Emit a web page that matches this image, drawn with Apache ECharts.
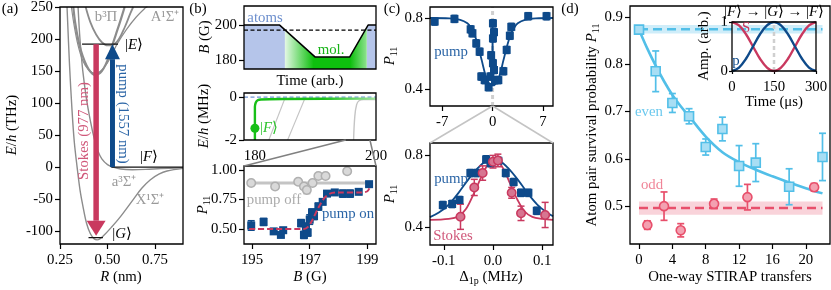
<!DOCTYPE html>
<html><head><meta charset="utf-8">
<script src="https://cdn.jsdelivr.net/npm/echarts@6.0.0/dist/echarts.min.js"></script>
<style>html,body{margin:0;padding:0;background:#fff;}#c{width:831px;height:290px;}</style>
</head><body><div id="c"></div>
<script>
// ================= DATA =================
// (a) potential energy curves [R (nm), E/h (THz)]
const aXTicks = [0.25, 0.5, 0.75];
const aYTicks = [-100, -50, 0, 50, 100, 150, 200, 250];
const potX1 = [[0.287,250],[0.30,160],[0.313,90],[0.325,40],[0.34,0],[0.355,-35],[0.37,-60],[0.39,-88],[0.41,-104],[0.43,-112],[0.445,-113.5],[0.46,-112],[0.476,-108],[0.52,-94],[0.566,-78],[0.634,-51],[0.68,-33],[0.724,-20],[0.77,-11],[0.813,-6],[0.897,-2]];
const potA3 = [[0.345,250],[0.355,200],[0.37,150],[0.39,105],[0.41,72],[0.43,45],[0.45,25],[0.47,13],[0.50,4],[0.53,0],[0.57,-3],[0.63,-4],[0.70,-3.5],[0.78,-2.2],[0.897,-1]];
const potExc = [[0.32,250],[0.33,225],[0.345,200],[0.36,182],[0.38,165],[0.40,153],[0.42,146],[0.435,144],[0.45,145],[0.47,150],[0.49,160],[0.51,175],[0.525,190],[0.545,208],[0.565,226],[0.59,250]];
const potA1 = [[0.31,250],[0.325,220],[0.345,190],[0.37,166],[0.40,152],[0.43,147],[0.46,149],[0.50,163],[0.53,180],[0.55,192],[0.60,215],[0.65,234],[0.70,249],[0.71,251]];
const potB3 = [[0.385,250],[0.41,226],[0.44,207],[0.47,195],[0.50,190],[0.53,191],[0.56,200],[0.59,218],[0.62,240],[0.635,250]];
const levelE = [[0.366,192],[0.555,192]];
const levelF = [[0.52,0],[0.897,0]];
const levelG = [[0.40,-110],[0.476,-110]];
const stokesArrow = [[0.44, 192, -107]];
const pumpArrow = [[0.526, 0, 192]];

// (b) top: magnetic field ramp vs time (arb.)
const bRampT = [0, 0.27, 0.54, 0.80, 0.94, 1];
const bRampB = [200, 200, 181.7, 181.7, 200, 200];
const bResonanceB = 197.1;
const bAtomsLeft = [[0,200],[0.27,200],[0.31,197.3]];
const bMolecules = [[0.31,197.3],[0.54,181.7],[0.80,181.7],[0.93,198.7]];
const bAtomsRight = [[0.93,198.7],[0.94,200],[1,200]];
const bTopYTicks = [180, 200];
// (b) middle: energy levels
const bMidXTicks = [180, 200];
const bMidYTicks = [-2, 0];
const bFstate = [[180,-2],[180,-0.45],[180.15,-0.25],[180.45,-0.15],[181,-0.11],[185,-0.09],[200,-0.07]];
const bFdot = [[180, -1.45]];
const bGray1 = [[182.3,-2],[184.9,-0.1]];
const bGray2 = [[185.4,-2],[188.2,-0.1]];
const bGray3 = [[196.3,-2],[196.5,-0.9],[196.8,-0.35],[197.2,-0.17],[198,-0.12],[200,-0.11]];
// (b) bottom: P11 vs B  [B, P11, err]
const bBotXTicks = [195, 197, 199];
const bBotYTicks = [0.5, 0.75, 1.0];
const pumpOff = [[194.97,0.89,0.02],[195.8,0.86,0.02],[196.6,0.90,0.02],[196.8,0.86,0.02],[196.9,0.83,0.03],[197.1,0.89,0.02],[197.3,0.95,0.02],[197.55,0.95,0.02],[198.3,0.99,0.02]];
const pumpOffMean = [[194.9,0.89],[199.05,0.89]];
const pumpOn = [[194.97,0.53,0.04],[195.4,0.56,0.03],[195.75,0.48,0.02],[196.0,0.45,0.02],[196.08,0.49,0.02],[196.7,0.55,0.03],[196.8,0.45,0.03],[196.87,0.52,0.03],[196.93,0.47,0.03],[197.0,0.58,0.04],[197.08,0.64,0.03],[197.15,0.61,0.03],[197.3,0.69,0.03],[197.45,0.73,0.02],[197.6,0.80,0.02],[197.87,0.81,0.02],[198.15,0.80,0.03],[198.4,0.80,0.03],[198.7,0.815,0.02],[199.06,0.88,0.02]];
const pumpOnFit = [[194.9,0.50],[196.8,0.50],[196.95,0.52],[197.1,0.58],[197.3,0.68],[197.5,0.76],[197.7,0.80],[198.0,0.81],[198.8,0.81],[199.0,0.82],[199.1,0.86]];

// (c) top: P11 vs detuning (MHz)
const cTopXTicks = [-7, 0, 7];
const cTopYTicks = [0.4, 0.8];
const cTopPump = [[-8.05,0.78],[-5.3,0.795],[-3.05,0.736],[-2.8,0.714],[-2.27,0.657],[-1.8,0.61],[-1.57,0.47],[-1.1,0.45],[-0.55,0.41],[0.05,0.77],[0.2,0.72],[0.05,0.685],[-0.2,0.59],[0.05,0.545],[0.2,0.507],[-0.3,0.47],[0.35,0.45],[0.8,0.45],[1.5,0.50],[1.96,0.62],[2.4,0.70],[2.6,0.75],[4.95,0.81],[7.5,0.81]];
const cTopFit = [[-8.7,0.80],[-6,0.798],[-4.5,0.79],[-3.5,0.77],[-3,0.745],[-2.5,0.705],[-2,0.64],[-1.5,0.56],[-1,0.48],[-0.6,0.44],[-0.25,0.422],[-0.1,0.42],[0.1,0.42],[0.25,0.422],[0.6,0.44],[1,0.48],[1.5,0.56],[2,0.64],[2.5,0.705],[3,0.745],[3.5,0.77],[4.5,0.79],[6,0.798],[8.4,0.80]];
const cTopSpike = [[-0.1,0.42],[0,0.77],[0.1,0.42]];
// (c) bottom
const cBotXTicks = [-0.1, 0, 0.1];
const cBotYTicks = [0.4, 0.8];
const cBotPump = [[-0.102,0.522,0.02],[-0.083,0.528,0.02],[-0.068,0.55,0.02],[-0.046,0.70,0.02],[-0.033,0.70,0.02],[-0.014,0.776,0.02],[-0.005,0.755,0.02],[0.011,0.768,0.02],[0.026,0.70,0.02],[0.042,0.65,0.02],[0.057,0.59,0.02],[0.072,0.59,0.02],[0.089,0.49,0.02]];
const cBotStokes = [[-0.066,0.457,0.07],[-0.038,0.62,0.045],[-0.021,0.70,0.04],[0.0,0.763,0.035],[0.01,0.77,0.035],[0.038,0.59,0.03],[0.057,0.476,0.04],[0.106,0.467,0.07]];
const cBotPumpFit = [[-0.128,0.455],[-0.11,0.48],[-0.09,0.525],[-0.07,0.59],[-0.05,0.665],[-0.03,0.73],[-0.015,0.765],[0,0.775],[0.015,0.765],[0.03,0.73],[0.05,0.665],[0.07,0.59],[0.09,0.525],[0.11,0.48],[0.122,0.46]];
const cBotStokesFit = [[-0.128,0.44],[-0.09,0.445],[-0.07,0.46],[-0.055,0.5],[-0.04,0.58],[-0.025,0.67],[-0.012,0.74],[0,0.772],[0.01,0.765],[0.022,0.72],[0.035,0.64],[0.05,0.55],[0.065,0.485],[0.08,0.456],[0.1,0.445],[0.122,0.44]];

// (d) survival probability vs number of transfers  [n, P11, err]
const dXTicks = [0, 4, 8, 12, 16, 20];
const dYTicks = [0.5, 0.6, 0.7, 0.8, 0.9];
const dEven = [[0,0.873,0.005],[2,0.785,0.043],[4,0.718,0.02],[6,0.69,0.016],[8,0.625,0.017],[10,0.663,0.025],[12,0.585,0.043],[14,0.592,0.04],[18,0.541,0.038],[22,0.604,0.05]];
const dOdd = [[1,0.46,0.009],[3,0.50,0.03],[5,0.449,0.014],[9,0.505,0.01],[13,0.519,0.027],[21,0.54,0.008]];
const dEvenFit = [[0,0.873],[1,0.833],[2,0.797],[3,0.764],[4,0.735],[5,0.711],[6,0.69],[8,0.647],[10,0.614],[12,0.593],[14,0.577],[16,0.563],[18,0.55],[20,0.538],[22,0.527]];
const dEvenLevel = [[0, 22, 0.874, 0.009]];   // [x0, x1, mean, half band]
const dOddLevel = [[0, 22, 0.496, 0.014]];
// (d) inset: STIRAP pulses
const inXTicks = [0, 150, 300];
const inYTicks = [0, 1];
const inT = [0,25,50,75,100,125,150,175,200,225,250,275,300];
const inS = [1,0.93,0.75,0.5,0.25,0.07,0,0.07,0.25,0.5,0.75,0.93,1];
const inP = [0,0.07,0.25,0.5,0.75,0.93,1,0.93,0.75,0.5,0.25,0.07,0];

// ================= STYLE =================
const FONT = 'Liberation Serif';
const FS = 14.8;
const NAVY = '#0e4a8a', NAVY_T = '#2b65a6';
const CRIM = '#c9395f', CRIM_T = '#d0587a';
const SKY = '#52bfe8', ROSE = '#e84f6b';
const GRAY = '#8c8c8c';
const GREEN = '#16bf16';

const GR = [
  {left:60, top:7, width:123, height:237, x:[0.25,0.897], y:[-120,250], xt:aXTicks, yt:aYTicks, xf:v=>v.toFixed(2), yf:v=>String(v)},
  {left:244, top:6, width:132, height:63, x:[0,1], y:[174.9,210.9], xt:[], yt:bTopYTicks, xf:String, yf:String},
  {left:244, top:93, width:132, height:47, x:[178.2,200], y:[-2,0.19], xt:bMidXTicks, yt:bMidYTicks, xf:String, yf:String, noXTick:true},
  {left:244, top:166, width:132, height:78, x:[194.72,199.3], y:[0.373,1.034], xt:bBotXTicks, yt:bBotYTicks, xf:String, yf:v=>v.toFixed(2)},
  {left:430, top:7, width:123, height:99, x:[-8.7,8.4], y:[0.304,0.862], xt:cTopXTicks, yt:cTopYTicks, xf:String, yf:v=>v.toFixed(1)},
  {left:430, top:143, width:123, height:102, x:[-0.128,0.122], y:[0.30,0.867], xt:cBotXTicks, yt:cBotYTicks, xf:v=>v.toFixed(1), yf:v=>v.toFixed(1)},
  {left:630, top:6, width:200, height:238, x:[-1.08,22.9], y:[0.42,0.923], xt:dXTicks, yt:dYTicks, xf:String, yf:v=>v.toFixed(1)},
  {left:732, top:22, width:84, height:49, x:[0,300], y:[0,1], xt:inXTicks, yt:inYTicks, xf:String, yf:String, tl:3, ym:4},
];

const grid = [], xAxis = [], yAxis = [];
GR.forEach((g, i) => {
  grid.push({left:g.left, top:g.top, width:g.width, height:g.height, show:true, borderColor:'#000', borderWidth:1.3, backgroundColor:'rgba(0,0,0,0)', containLabel:false, outerBoundsMode:'none', z:10});
  const mk = (dim) => {
    const ticks = dim === 'x' ? g.xt : g.yt;
    const has = ticks.length > 0;
    return {
      type:'value', gridIndex:i, min:(dim==='x'?g.x:g.y)[0], max:(dim==='x'?g.x:g.y)[1],
      position: dim === 'x' ? 'bottom' : 'left',
      axisLine:{show:false, onZero:false}, splitLine:{show:false}, minorTick:{show:false},
      axisTick:{show: has && !(dim==='x' && g.noXTick), inside:false, length:g.tl||5, customValues: has ? ticks : undefined, lineStyle:{color:'#000', width:1.2}},
      axisLabel:{show: has, customValues: has ? ticks : undefined, formatter: dim==='x'?g.xf:g.yf, margin: dim==='x' ? 9 : (g.ym||7), fontFamily:FONT, fontSize:FS, color:'#000'}
    };
  };
  xAxis.push(mk('x')); yAxis.push(mk('y'));
});

const S = [];
function L(g, data, color, width, extra) {
  S.push(Object.assign({type:'line', xAxisIndex:g, yAxisIndex:g, data, symbol:'none', showSymbol:false,
    lineStyle:{color, width}, silent:true, animation:false, z:3, clip:true}, extra || {}));
}
function EB(g, data, color, w, cap) {
  S.push({type:'custom', xAxisIndex:g, yAxisIndex:g, silent:true, animation:false, z:4, clip:true,
    data: data.map(d => [d[0], d[1]-d[2], d[1]+d[2]]), encode:{x:0, y:[1,2]},
    renderItem:(p, api) => {
      const x = api.value(0); const a = api.coord([x, api.value(1)]); const b = api.coord([x, api.value(2)]);
      const st = {stroke:color, lineWidth:w};
      return {type:'group', children:[
        {type:'line', shape:{x1:a[0], y1:a[1], x2:b[0], y2:b[1]}, style:st},
        {type:'line', shape:{x1:a[0]-cap, y1:a[1], x2:a[0]+cap, y2:a[1]}, style:st},
        {type:'line', shape:{x1:b[0]-cap, y1:b[1], x2:b[0]+cap, y2:b[1]}, style:st}]};
    }});
}
function SC(g, data, symbol, size, fill, stroke, bw) {
  S.push({type:'scatter', xAxisIndex:g, yAxisIndex:g, data:data.map(d => [d[0], d[1]]), symbol, symbolSize:size,
    itemStyle:{color:fill, borderColor:stroke, borderWidth:bw, opacity:1}, silent:true, animation:false, z:5});
}
function ARROW(g, data, color, shaftW, headW, headL) {
  S.push({type:'custom', xAxisIndex:g, yAxisIndex:g, silent:true, animation:false, z:6, data, encode:{x:0, y:[1,2]},
    renderItem:(p, api) => {
      const x = api.value(0); const s = api.coord([x, api.value(1)]); const t = api.coord([x, api.value(2)]);
      const dir = t[1] > s[1] ? 1 : -1; const base = t[1] - dir*headL;
      return {type:'group', children:[
        {type:'rect', shape:{x:s[0]-shaftW/2, y:Math.min(s[1], base), width:shaftW, height:Math.abs(base - s[1])}, style:{fill:color}},
        {type:'polygon', shape:{points:[[t[0], t[1]], [t[0]-headW/2, base], [t[0]+headW/2, base]]}, style:{fill:color}}]};
    }});
}
function BAND(g, data, color, lineColor, lw) {
  S.push({type:'custom', xAxisIndex:g, yAxisIndex:g, silent:true, animation:false, z:2, data, encode:{x:[0,1], y:2},
    renderItem:(p, api) => {
      const x0 = api.value(0), x1 = api.value(1), m = api.value(2), h = api.value(3);
      const a = api.coord([x0, m+h]); const b = api.coord([x1, m-h]); const c0 = api.coord([x0, m]); const c1 = api.coord([x1, m]);
      return {type:'group', children:[
        {type:'rect', shape:{x:a[0], y:a[1], width:b[0]-a[0], height:b[1]-a[1]}, style:{fill:color}},
        {type:'line', shape:{x1:c0[0], y1:c0[1], x2:c1[0], y2:c1[1]}, style:{stroke:lineColor, lineWidth:lw, lineDash:[9,5]}}]};
    }});
}
const zip = (a, b) => a.map((v, i) => [v, b[i]]);

// ---- (a)
L(0, potX1, GRAY, 1.4, {smooth:0.35});
L(0, potA3, GRAY, 1.4, {smooth:0.35});
L(0, potA1, GRAY, 1.2, {smooth:0.35});
L(0, potExc, GRAY, 2.2, {smooth:0.35});
L(0, potB3, GRAY, 1.8, {smooth:0.35});
L(0, levelE, '#111', 1.3); L(0, levelF, '#111', 1.3); L(0, levelG, '#111', 1.3);
ARROW(0, stokesArrow, CRIM, 5.5, 19, 15);
ARROW(0, pumpArrow, NAVY, 5, 15, 15);

// ---- (b) top
const greenGrad = new echarts.graphic.LinearGradient(0, 0, 1, 0, [
  {offset:0, color:'#e4f8e4'}, {offset:0.35, color:'#0ec00e'}, {offset:0.8, color:'#0ec00e'}, {offset:1, color:'#8fe28f'}]);
L(1, bAtomsLeft, 'rgba(0,0,0,0)', 0, {areaStyle:{color:'#b5c5ea', opacity:1, origin:'start'}, z:1});
L(1, bAtomsRight, 'rgba(0,0,0,0)', 0, {areaStyle:{color:'#b5c5ea', opacity:1, origin:'start'}, z:1});
L(1, bMolecules, 'rgba(0,0,0,0)', 0, {areaStyle:{color:greenGrad, opacity:1, origin:'start'}, z:1});
L(1, [[0, bResonanceB],[1, bResonanceB]], '#000', 1.2, {lineStyle:{color:'#000', width:1.2, type:[4,2.5]}});
L(1, zip(bRampT, bRampB), '#000', 1.5);

// ---- (b) middle
L(2, [[178.2,0],[200,0]], '#000', 1.2, {lineStyle:{color:'#7096d6', width:1.3, type:[4,2.5]}});
L(2, bGray1, '#c4c4c4', 1.1); L(2, bGray2, '#c4c4c4', 1.1); L(2, bGray3, '#c4c4c4', 1.4, {smooth:0.4});
L(2, bFstate, GREEN, 2.4, {smooth:0.3, lineStyle:{width:2.4, color:new echarts.graphic.LinearGradient(0,0,1,0,[{offset:0,color:'#18bf18'},{offset:0.55,color:'#18bf18'},{offset:1,color:'#a6e6a6'}])}});
SC(2, bFdot, 'circle', 9, GREEN, GREEN, 0);

// ---- (b) bottom
L(3, pumpOffMean, '#c4c4c4', 3);
EB(3, pumpOff, '#b5b5b5', 1.6, 3.5);
SC(3, pumpOff, 'circle', 8.5, '#d9d9d9', '#b0b0b0', 1.5);
L(3, pumpOnFit, CRIM, 2, {smooth:0.3, lineStyle:{color:CRIM, width:2, type:[6,3]}, z:6});
EB(3, pumpOn, NAVY, 1.6, 3.5);
SC(3, pumpOn, 'rect', 8, NAVY, NAVY, 0);

// ---- (c) top
L(4, [[0,0.304],[0,0.862]], '#cfcfcf', 3, {lineStyle:{color:'#cfcfcf', width:3, type:[4,3]}, z:2});
L(4, cTopFit, NAVY, 1.8, {smooth:0.35});
L(4, cTopSpike, NAVY, 1.5);
EB(4, cTopPump.map(d => [d[0], d[1], 0.02]), NAVY, 1.5, 3);
SC(4, cTopPump, 'rect', 8, NAVY, NAVY, 0);

// ---- (c) bottom
L(5, cBotPumpFit, NAVY, 1.8, {smooth:0.35});
L(5, cBotStokesFit, CRIM, 1.8, {smooth:0.35});
EB(5, cBotPump, NAVY, 1.5, 3);
SC(5, cBotPump, 'rect', 8, NAVY, NAVY, 0);
EB(5, cBotStokes, CRIM, 1.5, 3.5);
SC(5, cBotStokes, 'circle', 8.5, '#d77591', CRIM, 1.5);

// ---- (d)
BAND(6, dEvenLevel, 'rgba(82,191,232,0.28)', SKY, 2.6);
BAND(6, dOddLevel, 'rgba(232,79,107,0.25)', ROSE, 2.6);
L(6, dEvenFit, SKY, 2.6, {smooth:0.35});
EB(6, dEven, SKY, 1.7, 3.5);
SC(6, dEven, 'rect', 9, '#a8def4', SKY, 1.6);
EB(6, dOdd, ROSE, 1.7, 3.5);
SC(6, dOdd, 'circle', 9, '#f3a1b1', ROSE, 1.6);

// ---- (d) inset
L(7, [[150,0],[150,1]], '#cfcfcf', 2.5, {lineStyle:{color:'#cfcfcf', width:2.5, type:[4,3]}, z:2});
L(7, zip(inT, inS), CRIM, 2.4, {smooth:0.4});
L(7, zip(inT, inP), NAVY, 2.4, {smooth:0.4});

const chart = echarts.init(document.getElementById('c'), null, {renderer:'canvas', width:831, height:290});
chart.setOption({animation:false, backgroundColor:'#fff', grid, xAxis, yAxis, series:S});

// ================= TEXT / ANNOTATIONS =================
const RICH = (c, fs) => ({
  r:{fontFamily:FONT, fontSize:fs, fill:c, color:c, lineHeight:fs+3},
  i:{fontFamily:FONT, fontSize:fs, fontStyle:'italic', fill:c, color:c, lineHeight:fs+3},
  s:{fontFamily:FONT, fontSize:Math.round(fs*0.7), fill:c, color:c, verticalAlign:'bottom', lineHeight:Math.round(fs*0.7)}
});
function T(x, y, text, o) {
  o = o || {};
  const c = o.color || '#000', fs = o.fs || FS;
  return {type:'text', x, y, rotation:o.rot || 0, silent:true, z:100,
    style:{text, fill:c, fontFamily:FONT, fontSize:fs, align:o.align || 'center', verticalAlign:o.va || 'middle', rich:RICH(c, fs)}};
}
const UP = Math.PI/2, DOWN = -Math.PI/2;
const px = (g, pt) => chart.convertToPixel({xAxisIndex:g, yAxisIndex:g}, pt);
const seg = (p, q, color, w) => ({type:'line', silent:true, z:50, shape:{x1:p[0], y1:p[1], x2:q[0], y2:q[1]}, style:{stroke:color, lineWidth:w}});

const gfx = [
  // panel labels
  T(10, 9, '(a)'), T(198, 9, '(b)'), T(392, 9, '(c)'), T(570, 9, '(d)'),
  // (a)
  T(12, 125, '{i|E}{r|/}{i|h}{r| (THz)}', {rot:UP}),
  T(121, 277, '{i|R}{r| (nm)}'),
  T(106, 17, 'b³Π', {color:'#9a9a9a'}),
  T(165, 17, 'A¹Σ⁺', {color:'#9a9a9a'}),
  T(124, 182, 'a³Σ⁺', {color:'#9a9a9a'}),
  T(150, 200, 'X¹Σ⁺', {color:'#9a9a9a'}),
  T(134, 45, '{r||}{i|E}{r|⟩}'),
  T(149, 157, '{r||}{i|F}{r|⟩}'),
  T(122, 234, '{r||}{i|G}{r|⟩}'),
  T(84, 131, 'Stokes (977 nm)', {rot:UP, color:CRIM_T}),
  T(123, 114, 'pump (1557 nm)', {rot:DOWN, color:NAVY_T}),
  // (b)
  T(205, 37, '{i|B}{r| (G)}', {rot:UP}),
  T(310, 81, 'Time (arb.)'),
  T(265, 18, 'atoms', {color:'#6d8fcd'}),
  T(331, 50, 'mol.', {color:'#17b317'}),
  T(204, 116, '{i|E}{r|/}{i|h}{r| (MHz)}', {rot:UP}),
  T(269, 128, '{r||}{i|F}{r|⟩}', {color:'#2fc42f'}),
  T(203, 205, '{i|P}{s|11}', {rot:UP}),
  T(310, 277, '{i|B}{r| (G)}'),
  T(274, 200, 'pump off', {color:'#ababab'}),
  T(348, 214, 'pump on', {color:NAVY_T}),
  // (c)
  T(390, 56, '{i|P}{s|11}', {rot:UP}),
  T(390, 194, '{i|P}{s|11}', {rot:UP}),
  T(491, 277, '{r|Δ}{s|1p}{r| (MHz)}'),
  T(451, 52, 'pump', {color:NAVY_T}),
  T(451, 179, 'pump', {color:NAVY_T}),
  T(453, 236, 'Stokes', {color:CRIM_T}),
  // (d)
  T(592, 125, '{r|Atom pair survival probability }{i|P}{s|11}', {rot:UP}),
  T(730, 277, 'One-way STIRAP transfers'),
  T(649, 112, 'even', {color:'#6cc9ee'}),
  T(652, 185, 'odd', {color:'#f08497'}),
  T(704, 46, 'Amp. (arb.)', {rot:UP}),
  T(774, 102, 'Time (μs)'),
  T(774, 12, '{r||}{i|F}{r|⟩ → |}{i|G}{r|⟩ → |}{i|F}{r|⟩}'),
  T(746, 28, 'S', {color:CRIM}),
  T(736, 61, 'p', {color:NAVY}),
  // zoom connectors (computed through the axes)
  seg(px(2, [195, -2]), px(3, [194.72, 1.034]), '#808080', 1.5),
  seg(px(2, [199, -2]), px(3, [199.3, 1.034]), '#808080', 1.5),
  seg(px(4, [0, 0.304]), px(5, [-0.128, 0.867]), '#c4c4c4', 1.5),
  seg(px(4, [0, 0.304]), px(5, [0.122, 0.867]), '#c4c4c4', 1.5),
];
chart.setOption({graphic: gfx});
</script></body></html>
